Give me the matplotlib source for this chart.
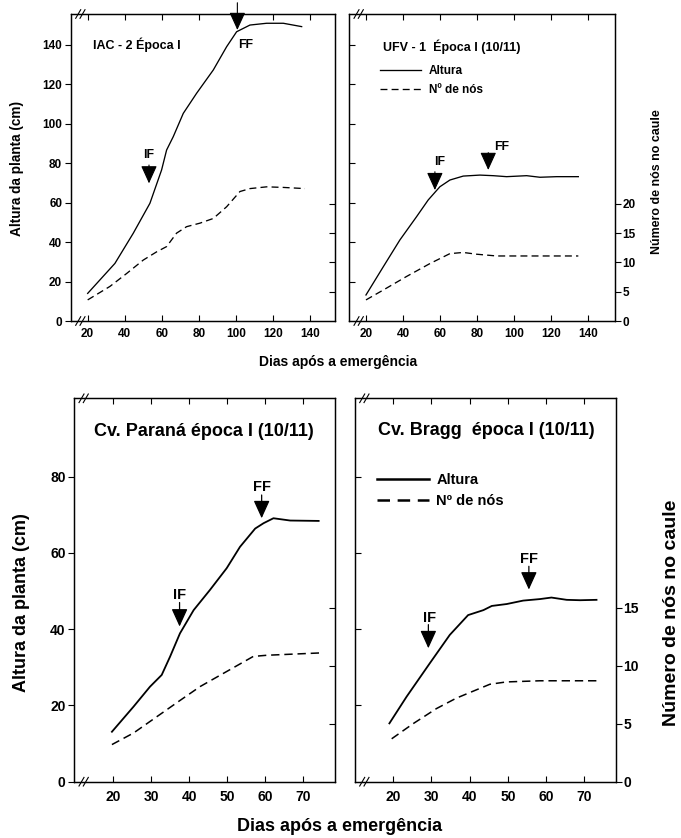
import numpy as np
import matplotlib
matplotlib.use("Agg")
import matplotlib.pyplot as plt
from matplotlib.lines import Line2D

plt.rcParams['font.family'] = ['Liberation Sans', 'DejaVu Sans']
plt.rcParams['font.weight'] = 'bold'
plt.rcParams['axes.labelweight'] = 'bold'
plt.rcParams['lines.scale_dashes'] = False

# --- IAC-2 epoca I (top left)
iac_dias = [20, 34.7, 44.6, 53.6, 59.9, 62.6, 66.2, 71.6, 78.8, 87.8, 95, 100.4, 107.6, 116.6, 125.6, 135.5]
iac_altura = [14.0, 29.2, 44.5, 59.7, 76.6, 86.7, 93.5, 105.3, 115.5, 127.3, 139.1, 146.7, 150.1, 151, 151, 149.3]
iac_nos_dias = [20, 32, 41, 50, 57.2, 62.6, 68, 73.4, 80.6, 87.8, 95, 102.2, 107.6, 116.6, 125.6, 137.3]
iac_nos = [3.6, 5.9, 8.1, 10.4, 11.8, 12.7, 15.0, 16.1, 16.7, 17.5, 19.5, 22.1, 22.6, 22.9, 22.8, 22.6]

# --- UFV-1 epoca I (top right)
ufv_dias = [20, 29.4, 38.3, 47.3, 53.6, 59.9, 65.3, 72.5, 81.5, 88.7, 95.9, 106.7, 113.9, 122.9, 134.6]
ufv_altura = [13.2, 27.6, 41.1, 52.9, 61.4, 68.1, 71.5, 73.5, 74.0, 73.7, 73.2, 73.7, 72.9, 73.2, 73.2]
ufv_nos_dias = [20, 29.4, 41.9, 54.5, 65.3, 72.5, 79.7, 90.5, 104.9, 134.6]
ufv_nos = [3.6, 5.3, 7.6, 9.8, 11.5, 11.7, 11.4, 11.1, 11.1, 11.1]

# --- Parana epoca I (bottom left)
par_dias = [19.6, 25.3, 29.6, 32.7, 34.9, 37.5, 41.1, 45.4, 49.8, 53.3, 57.3, 59.5, 62.1, 66.5, 74]
par_altura = [13.1, 19.7, 24.9, 28.0, 32.8, 38.9, 45.0, 50.3, 56.0, 61.6, 66.4, 67.8, 69.1, 68.5, 68.4]
par_nos_dias = [19.6, 25.3, 31.4, 37.5, 42.8, 49.8, 56.8, 60.4, 67.4, 74.4]
par_nos = [3.2, 4.2, 5.6, 7.0, 8.2, 9.5, 10.8, 10.9, 11.0, 11.1]

# --- Bragg epoca I (bottom right)
bra_dias = [19, 23.5, 29.6, 34.8, 39.6, 43.6, 45.8, 49.7, 54, 58.4, 61.4, 65.4, 68.9, 73.2]
bra_altura = [15.3, 22.3, 31.1, 38.5, 43.7, 45.0, 46.1, 46.6, 47.5, 47.9, 48.3, 47.7, 47.6, 47.7]
bra_nos_dias = [19.6, 25.2, 31.3, 36.5, 40.9, 45.3, 49.6, 58.4, 73.2]
bra_nos = [3.7, 5.0, 6.3, 7.2, 7.8, 8.4, 8.6, 8.7, 8.7]

# flowering marks: (label, day, tip, stem top, label x, label y)
iac_marks = [("IF", 53.1, 69.8, 79.1, 53.1, 84.2), ("FF", 100.8, 147.6, 161.4, 105, 140)]
ufv_marks = [("IF", 57.2, 66.4, 75.7, 59.9, 80.8), ("FF", 86, 76.6, 85.4, 93.2, 88.4)]
par_marks = [("IF", 37.4, 40.7, 47.0, 37.5, 49.0), ("FF", 59.0, 69.1, 75.2, 59.0, 77.4)]
bra_marks = [("IF", 29.2, 35.0, 41.2, 29.6, 42.9), ("FF", 55.5, 50.4, 56.5, 55.5, 58.4)]

fig = plt.figure(figsize=(6.81, 8.38), dpi=100)
FW, FH = 681, 838


def make_axes(l, r, t, b):
    return fig.add_axes([l / FW, (FH - b) / FH, (r - l) / FW, (b - t) / FH]), r - l, b - t


def breaks(ax, W, H):
    for cy in (0, 1):
        for off in (4.7, 9.0):
            ax.plot([off / W, (off + 5) / W], [cy - 4.3 / H, cy + 4.3 / H],
                    transform=ax.transAxes, color='black', lw=0.8, clip_on=False)


def marks(ax, mk, fs, lw):
    for lab, x, tip, top, lx, ly in mk:
        ax.annotate("", xy=(x, tip), xytext=(x, top), annotation_clip=False,
                    arrowprops=dict(arrowstyle="-|>,head_length=1.1,head_width=0.5",
                                    mutation_scale=10, lw=lw, color='black',
                                    shrinkA=0, shrinkB=0))
        ax.text(lx, ly, lab, fontsize=fs, ha='center', va='center')


def panel(pos, xlim, xticks, ylim, yticks, y2lim, y2ticks, left, fs, lw, dash):
    ax, W, H = make_axes(*pos)
    ax2 = ax.twinx()
    ax.set_xlim(*xlim)
    ax.set_ylim(*ylim)
    ax2.set_ylim(*y2lim)
    ax.set_xticks(xticks)
    ax.set_yticks(yticks)
    ax2.set_yticks(y2ticks)
    ax.tick_params(axis='x', direction='in', top=True, length=6 * 0.72, width=0.8,
                   labelsize=fs, pad=fs * 0.6)
    if left:
        ax.tick_params(axis='y', direction='out', length=6 * 0.72, width=0.8,
                       labelsize=fs, pad=2)
        ax2.tick_params(axis='y', direction='in', length=6 * 0.72, width=0.8, labelright=False)
    else:
        ax.tick_params(axis='y', direction='in', length=6 * 0.72, width=0.8, labelleft=False)
        ax2.tick_params(axis='y', direction='out', length=6 * 0.72, width=0.8,
                        labelsize=fs, pad=1)
    for a in (ax, ax2):
        for s in a.spines.values():
            s.set_linewidth(0.9)
    breaks(ax2, W, H)
    return ax, ax2


# ---------------- top row
top_xt = [20, 40, 60, 80, 100, 120, 140]
top_yt = [0, 20, 40, 60, 80, 100, 120, 140]
ax, ax2 = panel((71, 335, 14, 321), (11, 153.5), top_xt, (0, 155.7), top_yt,
                (0, 52.4), [5, 10, 15, 20], True, 8.5, 0.9, (5, 3))
ax.plot(iac_dias, iac_altura, color='black', lw=0.95)
ax2.plot(iac_nos_dias, iac_nos, color='black', lw=0.95, dashes=(5, 3))
ax.text(22.7, 140, "IAC - 2 Época I", fontsize=9, ha='left', va='center')
marks(ax, iac_marks, 8.8, 0.8)

ax, ax2 = panel((349.3, 615, 14, 321), (11, 154.4), top_xt, (0, 155.7), top_yt[1:],
                (0, 52.4), [0, 5, 10, 15, 20], False, 8.5, 0.9, (5, 3))
l1, = ax.plot(ufv_dias, ufv_altura, color='black', lw=0.95)
l2, = ax2.plot(ufv_nos_dias, ufv_nos, color='black', lw=0.95, dashes=(5, 3))
ax.text(29.4, 139, "UFV - 1  Época I (10/11)", fontsize=9, ha='left', va='center')
marks(ax, ufv_marks, 8.8, 0.8)
ax2.legend([Line2D([], [], color='black', lw=0.95),
            Line2D([], [], color='black', lw=0.95, dashes=(5, 3))],
           ["Altura", "Nº de nós"], loc='upper left', bbox_to_anchor=(0.1155, 0.835),
           frameon=False, fontsize=8.5, handlelength=3.5, handletextpad=0.65,
           labelspacing=0.64, borderpad=0, borderaxespad=0)

fig.text(17 / FW, 1 - 168 / FH, "Altura da planta (cm)", rotation=90, fontsize=9.8,
         ha='center', va='center')
fig.text(656.7 / FW, 1 - 181.7 / FH, "Número de nós no caule", rotation=90, fontsize=8.9,
         ha='center', va='center')
fig.text(338 / FW, 1 - 362 / FH, "Dias após a emergência", fontsize=10,
         ha='center', va='center')

# ---------------- bottom row
bot_xt = [20, 30, 40, 50, 60, 70]
ax, ax2 = panel((74.3, 335, 398.3, 781.7), (9.7, 78.3), bot_xt, (0, 100.56), [0, 20, 40, 60, 80],
                (0, 33.05), [5, 10, 15], True, 10, 1.1, (6, 3.5))
ax.plot(par_dias, par_altura, color='black', lw=1.3)
ax2.plot(par_nos_dias, par_nos, color='black', lw=1.1, dashes=(6, 3.5))
ax.text(43.9, 91.8, "Cv. Paraná época I (10/11)", fontsize=13, ha='center', va='center')
marks(ax, par_marks, 10.5, 0.9)

ax, ax2 = panel((355, 616, 398.3, 781.7), (10, 78.3), bot_xt, (0, 100.56), [20, 40, 60, 80],
                (0, 33.05), [0, 5, 10, 15], False, 10, 1.1, (6, 3.5))
ax.plot(bra_dias, bra_altura, color='black', lw=1.3)
ax2.plot(bra_nos_dias, bra_nos, color='black', lw=1.1, dashes=(6, 3.5))
ax.text(44.3, 92, "Cv. Bragg  época I (10/11)", fontsize=13, ha='center', va='center')
marks(ax, bra_marks, 10.5, 0.9)
ax2.legend([Line2D([], [], color='black', lw=1.8),
            Line2D([], [], color='black', lw=1.8, dashes=(9, 5.5))],
           ["Altura", "Nº de nós"], loc='upper left', bbox_to_anchor=(0.083, 0.805),
           frameon=False, fontsize=10.5, handlelength=3.6, handletextpad=0.5,
           labelspacing=0.5, borderpad=0, borderaxespad=0)

fig.text(21.7 / FW, 1 - 603 / FH, "Altura da planta (cm)", rotation=90, fontsize=13,
         ha='center', va='center')
fig.text(672 / FW, 1 - 613 / FH, "Número de nós no caule", rotation=90, fontsize=14,
         ha='center', va='center')
fig.text(340 / FW, 1 - 826 / FH, "Dias após a emergência", fontsize=13,
         ha='center', va='center')

fig.savefig("out.png", dpi=100)
